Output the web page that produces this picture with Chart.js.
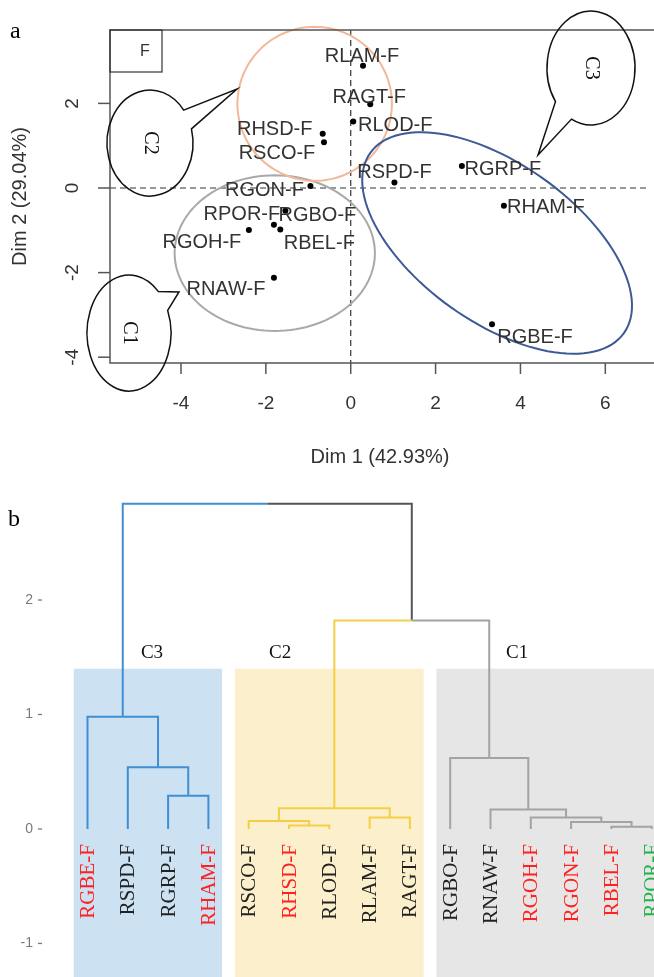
<!DOCTYPE html>
<html>
<head>
<meta charset="utf-8">
<script src="https://cdn.jsdelivr.net/npm/chart.js@4.4.1/dist/chart.umd.min.js"></script>
<style>
  body { margin: 0; background: #fff; width: 654px; height: 977px; overflow: hidden; position: relative; }
  canvas { position: absolute; left: 0; }
  #graficaPca { top: 0; }
  #graficaDendro { top: 490px; }
</style>
</head>
<body>
<canvas id="graficaPca" width="654" height="490"></canvas>
<canvas id="graficaDendro" width="654" height="487"></canvas>
<script>
/* ============================================================
   a) Individuos sobre Dim 1 / Dim 2
   ============================================================ */
const individuos = ['RLAM-F', 'RAGT-F', 'RLOD-F', 'RHSD-F', 'RSCO-F', 'RGON-F', 'RSPD-F', 'RGRP-F',
                    'RHAM-F', 'RGBE-F', 'RPOR-F', 'RGBO-F', 'RBEL-F', 'RGOH-F', 'RNAW-F'];
const dim1 = [0.29, 0.46, 0.06, -0.66, -0.63, -0.95, 1.03, 2.62, 3.61, 3.33, -1.81, -1.54, -1.66, -2.40, -1.81];
const dim2 = [2.89, 1.98, 1.57, 1.28, 1.08, 0.05, 0.13, 0.52, -0.42, -3.22, -0.87, -0.54, -0.98, -0.99, -2.12];
const ticksDim1 = [-4, -2, 0, 2, 4, 6];
const ticksDim2 = [-4, -2, 0, 2];

// elipses de los grupos (centro, semiejes en unidades de Dim, giro en grados)
const elipseGrupo = ['C1', 'C2', 'C3'];
const elipseCx = [-1.79, -0.85, 3.45];
const elipseCy = [-1.54, 1.99, -1.30];
const elipseRx = [2.36, 1.82, 3.67];
const elipseRy = [1.84, 1.82, 1.87];
const elipseGiro = [0, 0, -35.5];

/* ============================================================
   b) Dendrograma (orden de hojas y uniones estilo hclust)
   ============================================================ */
const hojas = ['RGBE-F', 'RSPD-F', 'RGRP-F', 'RHAM-F', 'RSCO-F', 'RHSD-F', 'RLOD-F', 'RLAM-F',
               'RAGT-F', 'RGBO-F', 'RNAW-F', 'RGOH-F', 'RGON-F', 'RBEL-F', 'RPOR-F'];
const grupoHoja = [3, 3, 3, 3, 2, 2, 2, 2, 2, 1, 1, 1, 1, 1, 1];
// negativo = hoja (base 1), positivo = union previa (base 1)
const unionA = [-14, -6, -13, -5, -8, -12, -11, 4, -3, -2, -10, -1, 8, 12];
const unionB = [-15, -7, 1, 2, -9, 3, 6, 5, -4, 9, 7, 10, 11, 13];
const alturaUnion = [0.02, 0.03, 0.06, 0.07, 0.10, 0.10, 0.17, 0.18, 0.29, 0.54, 0.62, 0.98, 1.82, 2.84];
const ticksAltura = [-1, 0, 1, 2];

// estilos
const colorGrupo = { 0: '#555555', 1: '#a3a3a3', 2: '#f4cf45', 3: '#3f8fd2' };
const fondoGrupo = { 1: '#e6e6e6', 2: '#fbf0cb', 3: '#cce2f2' };
const colorEtiqueta = ['#ff2020', '#222', '#222', '#ff2020', '#222', '#ff2020', '#222', '#222',
                       '#222', '#222', '#222', '#ff2020', '#ff2020', '#ff2020', '#22b24c'];

const SANS = '"Liberation Sans", Arial, sans-serif';
const SERIF = '"Liberation Serif", "Times New Roman", serif';

/* ---------- utilidades de dibujo ---------- */
function trazarElipse(ctx, sx, sy, cx, cy, rx, ry, giroGrados) {
  const th = giroGrados * Math.PI / 180;
  ctx.beginPath();
  for (let k = 0; k <= 120; k++) {
    const t = (k / 120) * 2 * Math.PI;
    const x = cx + rx * Math.cos(th) * Math.cos(t) - ry * Math.sin(th) * Math.sin(t);
    const y = cy + rx * Math.sin(th) * Math.cos(t) + ry * Math.cos(th) * Math.sin(t);
    const px = sx.getPixelForValue(x), py = sy.getPixelForValue(y);
    if (k === 0) ctx.moveTo(px, py); else ctx.lineTo(px, py);
  }
  ctx.closePath();
  ctx.stroke();
}

// globo de dialogo: elipse con cola hacia (puntaX, puntaY)
function globo(ctx, cx, cy, rx, ry, angBase, abertura, puntaX, puntaY, texto) {
  ctx.save();
  ctx.strokeStyle = '#111';
  ctx.lineWidth = 1.5;
  ctx.beginPath();
  ctx.ellipse(cx, cy, rx, ry, 0, angBase + abertura, angBase - abertura + 2 * Math.PI);
  ctx.lineTo(puntaX, puntaY);
  ctx.closePath();
  ctx.stroke();
  ctx.translate(cx, cy);
  ctx.rotate(Math.PI / 2);
  ctx.fillStyle = '#111';
  ctx.font = '20px ' + SERIF;
  ctx.textAlign = 'center';
  ctx.textBaseline = 'middle';
  ctx.fillText(texto, 0, 0);
  ctx.restore();
}

/* ---------- plugin panel a ---------- */
// desplazamiento del centro de cada etiqueta respecto al punto (px)
const despX = [-1, -1, 42, -48, -47, -46, 0, 41, 42, 43, -32, 32, 39, -47, -48];
const despY = [-9, -7, 4, -4, 11, 5, -10, 3, 2, 13, -10, 5, 14, 13, 12];

const pluginPca = {
  id: 'pluginPca',
  beforeDatasetsDraw(chart) {
    const { ctx, chartArea: a, scales: { x, y } } = chart;
    ctx.save();
    // ejes punteados en 0
    ctx.strokeStyle = '#333';
    ctx.lineWidth = 1.2;
    ctx.setLineDash([6, 4]);
    ctx.beginPath();
    ctx.moveTo(x.getPixelForValue(0), a.top);
    ctx.lineTo(x.getPixelForValue(0), a.bottom);
    ctx.moveTo(a.left, y.getPixelForValue(0));
    ctx.lineTo(a.right, y.getPixelForValue(0));
    ctx.stroke();
    ctx.setLineDash([]);
    // elipses
    const colores = ['#a9a9a9', '#f2b897', '#3d5a94'];
    elipseGrupo.forEach((g, i) => {
      ctx.strokeStyle = colores[i];
      ctx.lineWidth = 2;
      trazarElipse(ctx, x, y, elipseCx[i], elipseCy[i], elipseRx[i], elipseRy[i], elipseGiro[i]);
    });
    ctx.restore();
  },
  afterDraw(chart) {
    const { ctx, chartArea: a, scales: { x, y } } = chart;
    const meta = chart.getDatasetMeta(0);
    ctx.save();
    // etiquetas de individuos
    ctx.fillStyle = '#333';
    ctx.font = '20px ' + SANS;
    ctx.textAlign = 'center';
    ctx.textBaseline = 'middle';
    meta.data.forEach((p, i) => {
      ctx.fillText(individuos[i], p.x + despX[i], p.y + despY[i]);
    });

    // marco
    ctx.strokeStyle = '#555';
    ctx.lineWidth = 1.5;
    ctx.beginPath();
    ctx.moveTo(a.right + 5, a.top);
    ctx.lineTo(a.left, a.top);
    ctx.lineTo(a.left, a.bottom);
    ctx.lineTo(a.right + 5, a.bottom);
    ctx.stroke();

    // marcas y etiquetas de ejes
    ctx.fillStyle = '#333';
    ctx.font = '19px ' + SANS;
    ticksDim1.forEach(v => {
      const px = x.getPixelForValue(v);
      ctx.beginPath();
      ctx.moveTo(px, a.bottom);
      ctx.lineTo(px, a.bottom + 11);
      ctx.stroke();
      ctx.fillText(String(v), px, a.bottom + 41);
    });
    ticksDim2.forEach(v => {
      const py = y.getPixelForValue(v);
      ctx.beginPath();
      ctx.moveTo(a.left, py);
      ctx.lineTo(a.left - 12, py);
      ctx.stroke();
      ctx.save();
      ctx.translate(a.left - 37, py);
      ctx.rotate(-Math.PI / 2);
      ctx.fillText(String(v), 0, 0);
      ctx.restore();
    });
    ctx.font = '20px ' + SANS;
    ctx.fillText('Dim 1 (42.93%)', (a.left + a.right) / 2, 457);
    ctx.save();
    ctx.translate(20, (a.top + a.bottom) / 2);
    ctx.rotate(-Math.PI / 2);
    ctx.fillText('Dim 2 (29.04%)', 0, 0);
    ctx.restore();

    // recuadro de leyenda "F"
    ctx.lineWidth = 1.2;
    ctx.strokeStyle = '#333';
    ctx.strokeRect(a.left, a.top, 52, 42);
    ctx.font = '16px ' + SANS;
    ctx.fillText('F', a.left + 35, a.top + 22);

    // letra del panel
    ctx.fillStyle = '#000';
    ctx.font = '24px ' + SERIF;
    ctx.textAlign = 'left';
    ctx.fillText('a', 10, 32);

    // globos de grupo
    globo(ctx, 150, 143, 43, 53, -0.47, 0.2, 237, 89, 'C2');
    globo(ctx, 591, 68, 44, 57, 2.27, 0.24, 538, 155, 'C3');
    globo(ctx, 129, 333, 42, 58, -0.6, 0.2, 179, 292, 'C1');
    ctx.restore();
  }
};

new Chart(document.getElementById('graficaPca'), {
  type: 'scatter',
  data: {
    datasets: [{
      label: 'Individuos',
      data: dim1.map((v, i) => ({ x: v, y: dim2[i] })),
      pointRadius: 3,
      pointBackgroundColor: '#000',
      pointBorderWidth: 0
    }]
  },
  options: {
    responsive: false,
    animation: false,
    events: [],
    layout: { padding: { left: 110, top: 30, right: 0, bottom: 127 } },
    plugins: { legend: { display: false }, tooltip: { enabled: false } },
    scales: {
      x: { type: 'linear', min: -5.673, max: 7.053, display: false },
      y: { type: 'linear', min: -4.137, max: 3.735, display: false }
    }
  },
  plugins: [pluginPca]
});

/* ---------- ramas del dendrograma ---------- */
function construirRamas() {
  const nodoX = [], nodoY = [], nodoG = [];
  const ramas = [];
  const info = (ref) => ref < 0
    ? { x: -ref - 1, y: 0, g: grupoHoja[-ref - 1] }
    : { x: nodoX[ref - 1], y: nodoY[ref - 1], g: nodoG[ref - 1] };
  for (let k = 0; k < alturaUnion.length; k++) {
    const a = info(unionA[k]);
    const b = info(unionB[k]);
    const h = alturaUnion[k];
    const xm = (a.x + b.x) / 2;
    nodoX.push(xm);
    nodoY.push(h);
    nodoG.push(a.g === b.g ? a.g : 0);
    [a, b].forEach(c => {
      ramas.push({
        data: [{ x: c.x, y: c.y }, { x: c.x, y: h }, { x: xm, y: h }],
        borderColor: colorGrupo[c.g],
        borderWidth: 2,
        showLine: true,
        pointRadius: 0,
        tension: 0
      });
    });
  }
  return ramas;
}

const pluginDendro = {
  id: 'pluginDendro',
  beforeDatasetsDraw(chart) {
    const { ctx, chartArea: a, scales: { x, y } } = chart;
    ctx.save();
    [3, 2, 1].forEach(g => {
      const idx = grupoHoja.map((v, i) => v === g ? i : null).filter(v => v !== null);
      const x0 = x.getPixelForValue(Math.min(...idx) - 0.34);
      const x1 = g === 1 ? a.right : x.getPixelForValue(Math.max(...idx) + 0.34);
      const y0 = y.getPixelForValue(1.40);
      ctx.fillStyle = fondoGrupo[g];
      ctx.fillRect(x0, y0, x1 - x0, a.bottom - y0);
    });
    ctx.restore();
  },
  afterDatasetsDraw(chart) {
    const { ctx, scales: { x, y } } = chart;
    ctx.save();
    // etiquetas de hojas, verticales
    ctx.font = '21px ' + SERIF;
    ctx.textAlign = 'right';
    ctx.textBaseline = 'middle';
    hojas.forEach((h, i) => {
      ctx.save();
      ctx.translate(x.getPixelForValue(i) + 1, y.getPixelForValue(0) + 15);
      ctx.rotate(-Math.PI / 2);
      ctx.fillStyle = colorEtiqueta[i];
      ctx.fillText(h, 0, 0);
      ctx.restore();
    });
    // nombres de grupo
    ctx.fillStyle = '#111';
    ctx.font = '19px ' + SERIF;
    ctx.textAlign = 'center';
    [['C3', 1.6], ['C2', 4.78], ['C1', 10.66]].forEach(([t, xi]) => {
      ctx.fillText(t, x.getPixelForValue(xi), y.getPixelForValue(1.54));
    });
    // eje de altura
    ctx.fillStyle = '#7a7a7a';
    ctx.strokeStyle = '#7a7a7a';
    ctx.lineWidth = 1.3;
    ctx.font = '14px ' + SANS;
    ctx.textAlign = 'right';
    ticksAltura.forEach(v => {
      const py = y.getPixelForValue(v);
      ctx.fillText(String(v), 33, py);
      ctx.beginPath();
      ctx.moveTo(38, py);
      ctx.lineTo(42, py);
      ctx.stroke();
    });
    // letra del panel
    ctx.fillStyle = '#000';
    ctx.font = '24px ' + SERIF;
    ctx.textAlign = 'left';
    ctx.fillText('b', 8, 30);
    ctx.restore();
  }
};

new Chart(document.getElementById('graficaDendro'), {
  type: 'scatter',
  data: { datasets: construirRamas() },
  options: {
    responsive: false,
    animation: false,
    events: [],
    layout: { padding: 0 },
    plugins: { legend: { display: false }, tooltip: { enabled: false } },
    scales: {
      x: { type: 'linear', min: -2.171, max: 14.057, display: false },
      y: { type: 'linear', min: -1.293, max: 2.961, display: false }
    }
  },
  plugins: [pluginDendro]
});
</script>
</body>
</html>
